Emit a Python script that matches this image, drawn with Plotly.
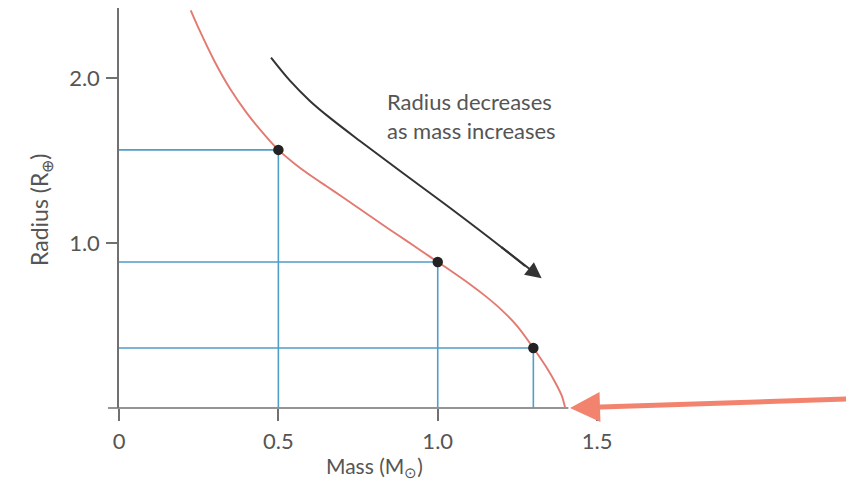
import plotly.graph_objects as go

# Mass-radius relation of white dwarfs
curve_mass = [0.225, 0.25, 0.30, 0.35, 0.40, 0.45, 0.50, 0.55, 0.60, 0.65, 0.70,
              0.75, 0.80, 0.85, 0.90, 0.95, 1.00, 1.05, 1.10, 1.15, 1.20, 1.25,
              1.30, 1.34, 1.37, 1.39, 1.40]
curve_radius = [2.41, 2.30, 2.10, 1.93, 1.79, 1.67, 1.564, 1.482, 1.41, 1.345, 1.28,
                1.213, 1.147, 1.08, 1.016, 0.95, 0.885, 0.82, 0.752, 0.678, 0.595, 0.495,
                0.364, 0.25, 0.15, 0.07, 0.0]

# Marked stars
star_mass = [0.5, 1.0, 1.3]
star_radius = [1.564, 0.885, 0.364]

# Curved "radius decreases" arrow path
arrow_mass = [0.477, 0.537, 0.599, 0.662, 0.756, 0.882, 1.039, 1.195, 1.274]
arrow_radius = [2.123, 1.982, 1.861, 1.758, 1.618, 1.436, 1.212, 0.982, 0.861]
arrow_tip = (1.326, 0.786)

# Chandrasekhar limit arrow
limit_tip = (1.415, 0.0)
limit_tail = (2.30, 0.055)

x_ticks = [0, 0.5, 1.0, 1.5]
x_ticktext = ["0", "0.5", "1.0", "1.5"]
y_ticks = [1.0, 2.0]
y_ticktext = ["1.0", "2.0"]

X_RANGE = [0, 2.306]
Y_RANGE = [0, 2.424]

BLUE = "#4f9fc6"
RED = "#e37a70"
SALMON = "#f2846f"
GRAY = "#555555"
AXIS = "#707070"
FONT = "Lato"

# page offset helpers (plot area: screen x 119..854, y 8..408)
def px(x):
    return (x - 119) / 735


def py(y):
    return (408 - y) / 400


fig = go.Figure()

# blue guide lines
for m, r in zip(star_mass, star_radius):
    fig.add_trace(go.Scatter(x=[0, m, m], y=[r, r, 0], mode="lines",
                             line=dict(color=BLUE, width=1.6),
                             hoverinfo="skip", showlegend=False))

# mass-radius curve
fig.add_trace(go.Scatter(x=curve_mass, y=curve_radius, mode="lines",
                         line=dict(color=RED, width=1.9, shape="spline", smoothing=0.5),
                         showlegend=False))

# stars
fig.add_trace(go.Scatter(x=star_mass, y=star_radius, mode="markers",
                         marker=dict(color="#222222", size=10.5),
                         showlegend=False))

# curved black arrow body
fig.add_trace(go.Scatter(x=arrow_mass, y=arrow_radius, mode="lines",
                         line=dict(color="#333333", width=2, shape="spline", smoothing=1.0),
                         hoverinfo="skip", showlegend=False))

fig.add_annotation(x=arrow_tip[0], y=arrow_tip[1], ax=arrow_mass[-2], ay=arrow_radius[-2],
                   xref="x", yref="y", axref="x", ayref="y", text="",
                   showarrow=True, arrowhead=2, arrowsize=1.6, arrowwidth=2,
                   arrowcolor="#333333")

fig.add_annotation(x=limit_tip[0], y=limit_tip[1], ax=limit_tail[0], ay=limit_tail[1],
                   xref="x", yref="y", axref="x", ayref="y", text="",
                   showarrow=True, arrowhead=2, arrowsize=1.2, arrowwidth=5,
                   arrowcolor=SALMON)

fig.add_annotation(x=px(385), y=py(116), xref="paper", yref="paper",
                   xanchor="left", yanchor="middle", align="left", showarrow=False,
                   text="Radius decreases<br>as mass increases",
                   font=dict(family=FONT, size=22, color=GRAY))

# axis titles
fig.add_annotation(x=px(40), y=py(210), xref="paper", yref="paper",
                   xanchor="center", yanchor="middle",
                   showarrow=False, textangle=-90, text="Radius (R<sub>⊕</sub>)",
                   font=dict(family=FONT, size=23, color=GRAY))
fig.add_annotation(x=px(374), y=py(467), xref="paper", yref="paper",
                   xanchor="center", yanchor="middle",
                   showarrow=False, text="Mass (M<sub>⊙</sub>)",
                   font=dict(family=FONT, size=21, color=GRAY))

# x axis line (starts a little left of the y axis, ends at the limit)
x_end_paper = (1.41 - X_RANGE[0]) / (X_RANGE[1] - X_RANGE[0])
fig.add_shape(type="line", xref="paper", yref="paper", x0=px(108), x1=x_end_paper,
              y0=0, y1=0, line=dict(color=AXIS, width=1.5), layer="below")

fig.update_layout(
    width=846, height=483,
    margin=dict(l=111, r=0, t=0, b=83),
    paper_bgcolor="white", plot_bgcolor="white",
    showlegend=False,
    xaxis=dict(range=X_RANGE, tickvals=x_ticks, ticktext=x_ticktext,
               ticks="outside", ticklen=12, tickwidth=1.5, tickcolor=AXIS,
               showline=False, showgrid=False, zeroline=False,
               ticklabelstandoff=2,
               tickfont=dict(family=FONT, size=22, color=GRAY)),
    yaxis=dict(range=Y_RANGE, tickvals=y_ticks, ticktext=y_ticktext,
               ticks="outside", ticklen=11, tickwidth=1.5, tickcolor=AXIS,
               showline=True, linecolor=AXIS, linewidth=1.5,
               showgrid=False, zeroline=False, ticklabelstandoff=2,
               tickfont=dict(family=FONT, size=22, color=GRAY)),
)

fig.write_html("out.html")
